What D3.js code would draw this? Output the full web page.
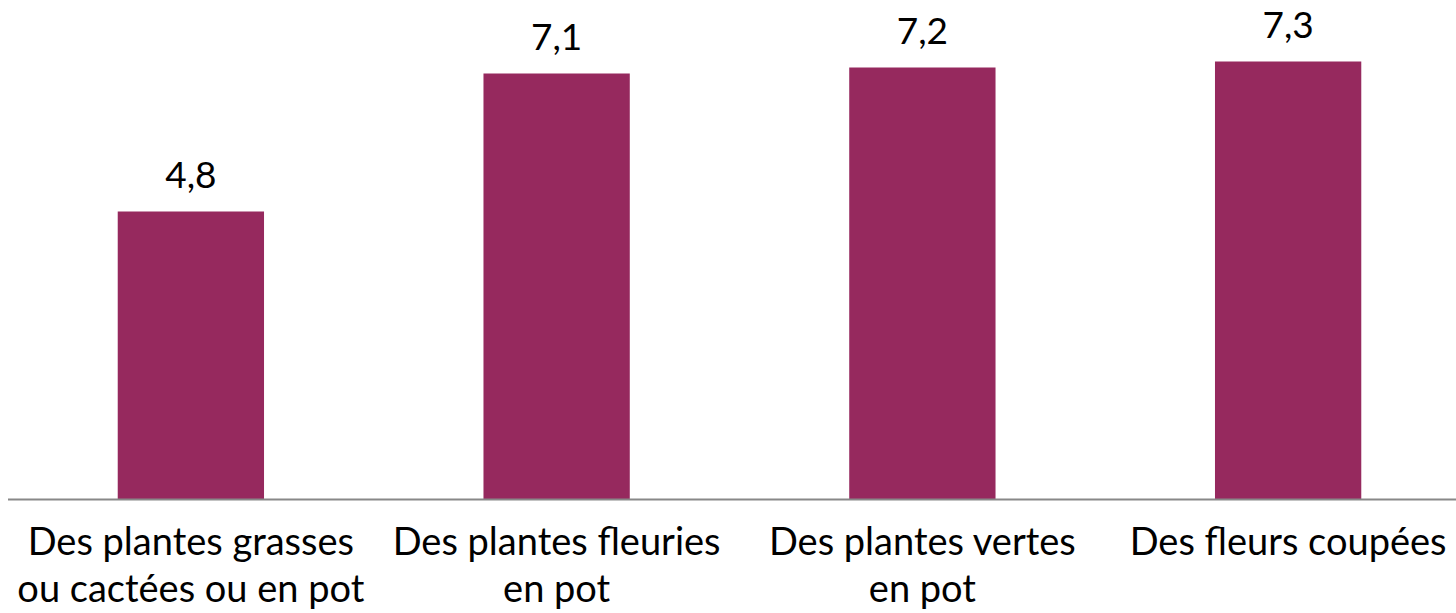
<!DOCTYPE html>
<html>
<head>
<meta charset="utf-8">
<script src="https://cdn.jsdelivr.net/npm/d3@7"></script>
<style>
  html, body { margin: 0; padding: 0; background: #fff; }
  svg { display: block; }
</style>
</head>
<body>
<div id="chart"></div>
<script>
const svgWidth = 1456;
const svgHeight = 613;

// data
const categories = [
    ["Des plantes grasses", "ou cactées ou en pot"],
    ["Des plantes fleuries", "en pot"],
    ["Des plantes vertes", "en pot"],
    ["Des fleurs coupées"]
];
const values = [4.8, 7.1, 7.2, 7.3];
const valueLabels = ["4,8", "7,1", "7,2", "7,3"];

const barColor = "#96295E";
const fontFamily = "Lato, 'Open Sans', sans-serif";

const x = d3.scaleBand()
    .domain(d3.range(values.length))
    .range([8, 1471])
    .paddingInner(0.6)
    .paddingOuter(0.3);

const baseline = 499.5;
const y = d3.scaleLinear()
    .domain([0, 1])
    .range([baseline, baseline - 60]);

const svg = d3.select("#chart")
    .append("svg")
    .attr("width", svgWidth)
    .attr("height", svgHeight);

// bars
svg.selectAll("rect.bar")
    .data(values)
    .join("rect")
    .attr("class", "bar")
    .attr("x", (d, i) => x(i))
    .attr("y", d => y(d))
    .attr("width", x.bandwidth())
    .attr("height", d => y(0) - y(d))
    .style("fill", barColor);

// axis line
svg.append("line")
    .attr("x1", 8)
    .attr("x2", svgWidth)
    .attr("y1", y(0))
    .attr("y2", y(0))
    .style("stroke", "#888")
    .style("stroke-width", 2);

// value labels
svg.selectAll("text.value")
    .data(values)
    .join("text")
    .attr("class", "value")
    .attr("x", (d, i) => x(i) + x.bandwidth() / 2)
    .attr("y", d => y(d) - 24)
    .attr("text-anchor", "middle")
    .attr("font-size", "37px")
    .attr("font-family", fontFamily)
    .attr("fill", "#000")
    .text((d, i) => valueLabels[i]);

// category labels
const cat = svg.selectAll("text.cat")
    .data(categories)
    .join("text")
    .attr("class", "cat")
    .attr("x", (d, i) => x(i) + x.bandwidth() / 2)
    .attr("y", 555)
    .attr("text-anchor", "middle")
    .attr("font-size", "38px")
    .attr("font-family", fontFamily)
    .attr("fill", "#000");

cat.selectAll("tspan")
    .data(d => d)
    .join("tspan")
    .attr("x", function() { return d3.select(this.parentNode).attr("x"); })
    .attr("dy", (d, i) => i === 0 ? 0 : 47)
    .text(d => d);
</script>
</body>
</html>
